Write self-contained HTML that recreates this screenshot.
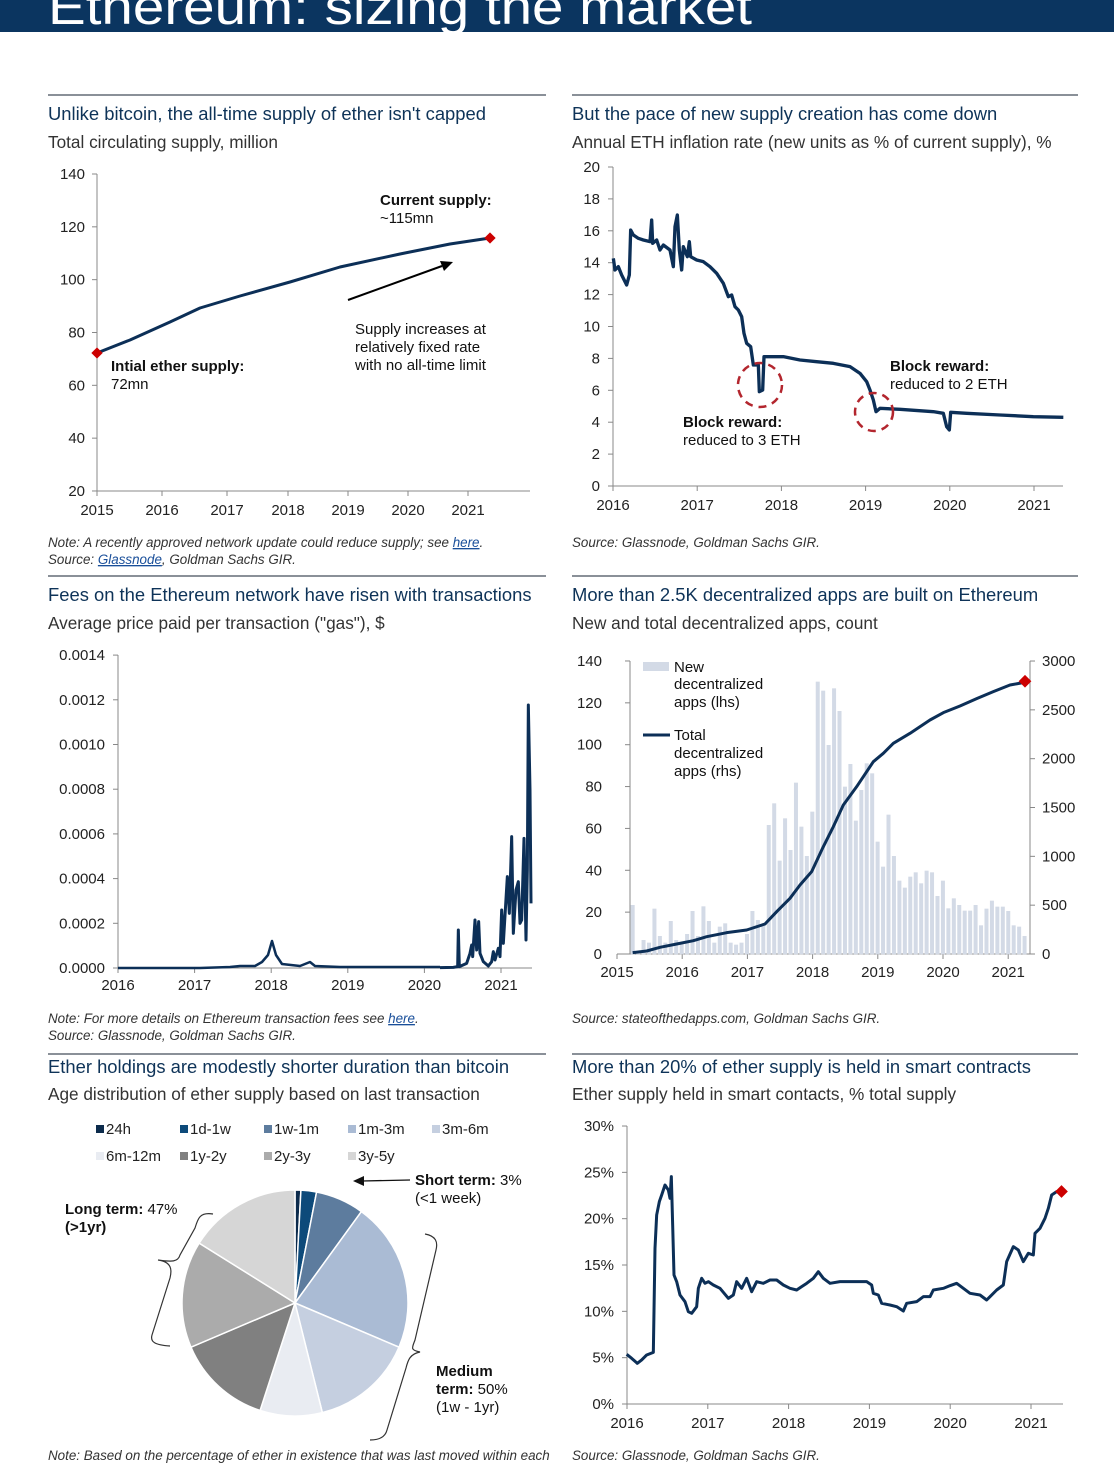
<!DOCTYPE html>
<html><head><meta charset="utf-8"><style>
html,body{margin:0;padding:0;background:#fff}
svg{display:block;font-family:"Liberation Sans",Arial,sans-serif}
.t{font-size:18.4px;fill:#0e3358}
.s{font-size:17.2px;fill:#333}
.k{font-size:15px;fill:#222}
.n{font-size:13.4px;fill:#333;font-style:italic}
.ax{stroke:#888;stroke-width:1;fill:none}
.ln{fill:none;stroke:#0c2f57;stroke-width:3;stroke-linejoin:round}
.a{font-size:15px;fill:#111}
.b{font-weight:bold}
</style></head><body>
<svg id="s" width="1114" height="1471" viewBox="0 0 1114 1471">
<rect x="0" y="0" width="1114" height="32" fill="#0b3560"/>
<text x="48" y="24" font-size="50" fill="#fff" textLength="704" lengthAdjust="spacingAndGlyphs">Ethereum: sizing the market</text>
<g stroke="#8a9098" stroke-width="2">
<line x1="48" y1="95" x2="546" y2="95"/><line x1="572" y1="95" x2="1078" y2="95"/>
<line x1="48" y1="576" x2="546" y2="576"/><line x1="572" y1="576" x2="1078" y2="576"/>
<line x1="48" y1="1054" x2="546" y2="1054"/><line x1="572" y1="1054" x2="1078" y2="1054"/>
</g>
<text class="t" x="48" y="120">Unlike bitcoin, the all-time supply of ether isn't capped</text>
<text class="s" x="48" y="148">Total circulating supply, million</text>
<text class="t" x="572" y="120">But the pace of new supply creation has come down</text>
<text class="s" x="572" y="148">Annual ETH inflation rate (new units as % of current supply), %</text>
<text class="t" x="48" y="601">Fees on the Ethereum network have risen with transactions</text>
<text class="s" x="48" y="629">Average price paid per transaction ("gas"), $</text>
<text class="t" x="572" y="601">More than 2.5K decentralized apps are built on Ethereum</text>
<text class="s" x="572" y="629">New and total decentralized apps, count</text>
<text class="t" x="48" y="1073">Ether holdings are modestly shorter duration than bitcoin</text>
<text class="s" x="48" y="1100">Age distribution of ether supply based on last transaction</text>
<text class="t" x="572" y="1073">More than 20% of ether supply is held in smart contracts</text>
<text class="s" x="572" y="1100">Ether supply held in smart contacts, % total supply</text>

<text class="n" x="48" y="547">Note: A recently approved network update could reduce supply; see <tspan fill="#1a4f9a" text-decoration="underline">here</tspan>.</text>
<text class="n" x="48" y="564">Source: <tspan fill="#1a4f9a" text-decoration="underline">Glassnode</tspan>, Goldman Sachs GIR.</text>
<text class="n" x="572" y="547">Source: Glassnode, Goldman Sachs GIR.</text>
<text class="n" x="48" y="1023">Note: For more details on Ethereum transaction fees see <tspan fill="#1a4f9a" text-decoration="underline">here</tspan>.</text>
<text class="n" x="48" y="1040">Source: Glassnode, Goldman Sachs GIR.</text>
<text class="n" x="572" y="1023">Source: stateofthedapps.com, Goldman Sachs GIR.</text>
<text class="n" x="48" y="1460">Note: Based on the percentage of ether in existence that was last moved within each</text>
<text class="n" x="572" y="1460">Source: Glassnode, Goldman Sachs GIR.</text>

<!-- Chart 1 -->
<g id="c1"></g>
<path class="ln" d="M97,353 L130,340 170,322 200,308 240,296 290,282 340,267 400,254 450,244 490,238"/>
<rect x="93" y="349" width="8" height="8" fill="#c00" transform="rotate(45 97 353)"/>
<rect x="486" y="234" width="8" height="8" fill="#c00" transform="rotate(45 490 238)"/>
<line x1="348" y1="300" x2="442" y2="266" stroke="#000" stroke-width="2"/>
<polygon points="453,262 440,261 444,271" fill="#000"/>
<text class="a" x="380" y="205"><tspan class="b">Current supply:</tspan></text>
<text class="a" x="380" y="223">~115mn</text>
<text class="a" x="355" y="334">Supply increases at</text>
<text class="a" x="355" y="352">relatively fixed rate</text>
<text class="a" x="355" y="370">with no all-time limit</text>
<text class="a b" x="111" y="371">Intial ether supply:</text>
<text class="a" x="111" y="389">72mn</text>

<!-- Chart 2 -->
<g id="c2"></g>
<g transform="translate(600,160) scale(0.33333)">
<path class="ln" style="stroke-width:10" d="M40,295 L45,330 55,320 65,345 80,375 88,345 92,210 100,225 115,235 130,240 150,245 155,180 158,250 170,240 180,270 190,255 210,270 220,320 225,200 232,165 238,270 245,330 250,260 262,290 268,245 272,290 290,300 310,305 330,320 350,340 370,370 385,410 395,405 405,440 415,450 425,470 432,520 440,550 452,560 460,615 475,615 478,695 488,690 492,590 520,590 550,590 600,600 650,605 700,610 750,620 780,640 800,665 810,690 820,720 828,755 840,745 900,748 1000,755 1030,760 1040,800 1048,810 1052,757 1100,760 1200,765 1300,770 1390,772"/>
</g>
<circle cx="760" cy="385" r="22" fill="none" stroke="#b3262e" stroke-width="2.5" stroke-dasharray="8,6"/>
<circle cx="874" cy="412" r="19" fill="none" stroke="#b3262e" stroke-width="2.5" stroke-dasharray="8,6"/>
<text class="a b" x="890" y="371">Block reward:</text>
<text class="a" x="890" y="389">reduced to 2 ETH</text>
<text class="a b" x="683" y="427">Block reward:</text>
<text class="a" x="683" y="445">reduced to 3 ETH</text>

<!-- Chart 3 -->
<g id="c3"></g>
<path class="ln" style="stroke-width:2.5" d="M118,968 L200,968 230,967 240,966 255,966 262,962 268,955 272,941 276,955 282,964 300,966 310,962 315,966 340,967 400,967 440,967"/>
<g transform="translate(420,690) scale(0.33333)">
<path class="ln" style="stroke-width:9" d="M60,833 L100,832 113,830 115,720 118,830 140,820 150,790 155,765 158,800 165,690 170,780 176,695 180,790 190,815 205,828 215,815 220,785 225,810 235,775 240,800 245,660 250,760 262,560 268,670 275,440 280,730 288,600 295,575 300,700 305,690 312,445 318,750 322,540 325,45 330,300 333,640"/>
</g>

<!-- Chart 4 -->
<g id="c4"></g>
<g transform="translate(610,650) scale(0.33333)">
<g id="bars" fill="#d3dae6"></g>
<path class="ln" style="stroke-width:9" d="M68,908 L110,903 150,892 200,882 250,872 290,860 350,848 410,840 465,822 500,785 540,745 570,705 605,665 640,590 670,530 700,465 740,410 790,335 820,310 850,280 900,250 960,210 1000,188 1050,168 1100,146 1150,125 1200,105 1245,97"/>
</g>
<rect x="1020" y="677" width="9" height="9" fill="#c00" transform="rotate(45 1025 682)"/>
<rect x="643" y="662" width="26" height="9" fill="#d3dae6"/>
<text class="a" x="674" y="672">New</text>
<text class="a" x="674" y="689">decentralized</text>
<text class="a" x="674" y="707">apps (lhs)</text>
<line x1="643" y1="735" x2="670" y2="735" stroke="#0c2f57" stroke-width="3"/>
<text class="a" x="674" y="740">Total</text>
<text class="a" x="674" y="758">decentralized</text>
<text class="a" x="674" y="776">apps (rhs)</text>

<!-- Chart 5 pie -->
<g id="pie"></g>
<g id="leg"></g>
<g fill="none" stroke="#333" stroke-width="1.2">
<path d="M213,1214 C200,1212 198,1218 195,1228 L180,1255 C178,1262 172,1262 158,1260 C172,1262 172,1270 170,1278 L152,1335 C150,1342 155,1345 170,1346"/>
<path d="M425,1234 C436,1236 438,1242 436,1250 L415,1340 C412,1348 410,1350 420,1352 C410,1354 408,1360 406,1368 L387,1430 C385,1438 378,1440 370,1440"/>
</g>
<line x1="410" y1="1180" x2="362" y2="1181" stroke="#111" stroke-width="1.3"/>
<polygon points="353,1181 364,1176 364,1186" fill="#111"/>
<text class="a" x="415" y="1185"><tspan class="b">Short term:</tspan> 3%</text>
<text class="a" x="415" y="1203">(&lt;1 week)</text>
<text class="a" x="65" y="1214"><tspan class="b">Long term:</tspan> 47%</text>
<text class="a b" x="65" y="1232">(&gt;1yr)</text>
<text class="a b" x="436" y="1376">Medium</text>
<text class="a" x="436" y="1394"><tspan class="b">term:</tspan> 50%</text>
<text class="a" x="436" y="1412">(1w - 1yr)</text>

<!-- Chart 6 -->
<g id="c6"></g>
<g transform="translate(600,1115) scale(0.33333)">
<path class="ln" style="stroke-width:9" d="M80,718 L95,730 112,745 125,735 140,720 160,712 165,400 170,300 178,260 185,240 195,210 205,225 210,250 214,185 218,330 222,480 230,500 240,540 255,560 265,590 275,595 290,575 295,520 305,490 315,505 325,500 340,510 360,520 385,550 400,540 410,500 425,520 440,490 455,530 470,500 490,505 510,495 530,495 550,510 570,520 590,525 605,515 620,505 640,490 655,470 670,490 690,505 720,500 760,500 800,500 815,510 820,535 835,540 845,565 870,570 890,575 910,588 920,565 950,560 970,545 990,545 1000,525 1030,520 1050,512 1070,505 1090,520 1110,535 1140,540 1160,555 1170,545 1190,525 1210,510 1220,440 1240,395 1255,405 1270,440 1285,415 1300,420 1305,355 1320,340 1335,310 1345,280 1355,240 1370,230 1385,230"/>
</g>
<rect x="1057" y="1187" width="9" height="9" fill="#c00" transform="rotate(45 1061.5 1191.5)"/>
</svg>
<script>
var NS="http://www.w3.org/2000/svg";
function el(p,tag,at,txt){var e=document.createElementNS(NS,tag);for(var k in at)e.setAttribute(k,at[k]);if(txt!=null)e.textContent=txt;document.getElementById(p).appendChild(e);return e;}
function axisX(g,y,xa,xb,xs,labels,ly){el(g,"line",{x1:xa,y1:y,x2:xb,y2:y,class:"ax"});for(var i=0;i<labels.length;i++){el(g,"line",{x1:xs[i],y1:y,x2:xs[i],y2:y+5,class:"ax"});el(g,"text",{x:xs[i],y:ly,class:"k","text-anchor":"middle"},labels[i]);}}
function rng(a,s,n){var r=[];for(var i=0;i<n;i++)r.push(a+s*i);return r;}
var yrs=["2015","2016","2017","2018","2019","2020","2021"];
(function(){var L=["140","120","100","80","60","40","20"];el("c1","line",{x1:97,y1:174,x2:97,y2:491,class:"ax"});for(var i=0;i<7;i++){var y=174+i*52.83;el("c1","line",{x1:92,y1:y,x2:97,y2:y,class:"ax"});el("c1","text",{x:85,y:y+5,class:"k","text-anchor":"end"},L[i]);}})();
axisX("c1",491,97,530,[97,162,227,288,348,408,468],yrs,515);
(function(){el("c2","line",{x1:613,y1:167,x2:613,y2:486,class:"ax"});for(var i=0;i<=10;i++){var y=486-i*31.9;el("c2","line",{x1:608,y1:y,x2:613,y2:y,class:"ax"});el("c2","text",{x:600,y:y+5,class:"k","text-anchor":"end"},String(i*2));}})();
axisX("c2",486,613,1063,rng(613,84.2,6),yrs.slice(1),510);
(function(){el("c3","line",{x1:118,y1:655,x2:118,y2:968,class:"ax"});for(var i=0;i<=7;i++){var y=968-i*44.7;el("c3","line",{x1:113,y1:y,x2:118,y2:y,class:"ax"});el("c3","text",{x:105,y:y+5,class:"k","text-anchor":"end"},(i*0.0002).toFixed(4));}})();
axisX("c3",968,118,532,rng(118,76.6,6),yrs.slice(1),990);
(function(){el("c4","line",{x1:630,y1:661,x2:630,y2:954,class:"ax"});el("c4","line",{x1:1030,y1:661,x2:1030,y2:954,class:"ax"});for(var i=0;i<=7;i++){var y=954-i*41.86;el("c4","line",{x1:625,y1:y,x2:630,y2:y,class:"ax"});el("c4","text",{x:602,y:y+5,class:"k","text-anchor":"end"},String(i*20));}
for(var i=0;i<=6;i++){var y=954-i*48.83;el("c4","line",{x1:1030,y1:y,x2:1035,y2:y,class:"ax"});el("c4","text",{x:1042,y:y+5,class:"k"},String(i*500));}})();
axisX("c4",954,617,1030,rng(617,65.2,7),yrs,977);
var tops=[765,905,870,878,776,858,878,813,870,878,852,783,858,769,813,878,830,820,878,884,878,852,783,810,822,525,460,632,505,600,398,530,618,485,95,122,285,115,183,410,342,512,420,340,370,575,650,494,618,692,713,680,667,700,662,667,738,692,775,745,765,782,782,765,826,776,752,770,770,783,826,830,858];
(function(){var g=document.getElementById("bars");for(var i=0;i<tops.length;i++){var x=68+i*16.33-6;var r=document.createElementNS(NS,"rect");r.setAttribute("x",x);r.setAttribute("y",tops[i]);r.setAttribute("width",12);r.setAttribute("height",913-tops[i]);g.appendChild(r);}})();
(function(){el("c6","line",{x1:627,y1:1126,x2:627,y2:1404,class:"ax"});for(var i=0;i<=6;i++){var y=1404-i*46.33;el("c6","line",{x1:622,y1:y,x2:627,y2:y,class:"ax"});el("c6","text",{x:614,y:y+5,class:"k","text-anchor":"end"},(i*5)+"%");}})();
axisX("c6",1404,627,1063,rng(627,80.8,6),yrs.slice(1),1428);
(function(){var cx=295,cy=1303,r=113;var b=[0,3,11,36,113,166,198,247,302,360];var c=["#0c2b4c","#0d4a7a","#5d7c9e","#aabbd4","#c5cfe0","#e9ecf2","#808080","#ababab","#d6d6d6"];
function pt(a){a=(a-90)*Math.PI/180;return [cx+r*Math.cos(a),cy+r*Math.sin(a)];}
for(var i=0;i<9;i++){var p0=pt(b[i]),p1=pt(b[i+1]);var lg=(b[i+1]-b[i])>180?1:0;el("pie","path",{d:"M"+cx+","+cy+" L"+p0[0]+","+p0[1]+" A"+r+","+r+" 0 "+lg+" 1 "+p1[0]+","+p1[1]+" Z",fill:c[i],stroke:"#fff","stroke-width":1.5});}
var names=["24h","1d-1w","1w-1m","1m-3m","3m-6m","6m-12m","1y-2y","2y-3y","3y-5y"];var xs=[96,180,264,348,432];
for(var i=0;i<9;i++){var x=xs[i%5],y=i<5?1129:1156;el("leg","rect",{x:x,y:y-4,width:8,height:8,fill:c[i]});el("leg","text",{x:x+10,y:y+5,class:"k"},names[i]);}})();
</script>
</body></html>
